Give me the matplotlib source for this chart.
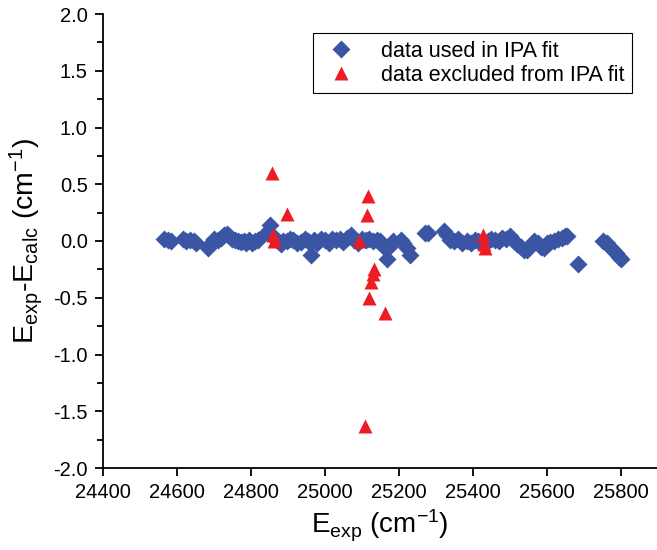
import numpy as np
import matplotlib.pyplot as plt

plt.rcParams['font.family'] = ['Liberation Sans', 'DejaVu Sans']
plt.rcParams['mathtext.default'] = 'regular'

# data used in the IPA fit (E_exp in cm^-1, residual in cm^-1)
used_x = [24565, 24575, 24585, 24615, 24625, 24635, 24645, 24652,
          24683, 24690, 24700,
          24712, 24720, 24728, 24735, 24742, 24750, 24758, 24765, 24772,
          24780, 24788, 24795, 24803, 24812, 24820,
          24843, 24851, 24858, 24865, 24872, 24880, 24888,
          24897, 24905, 24915, 24925, 24935, 24945, 24955, 24962, 24970,
          24980, 24990, 25000, 25010, 25020, 25030, 25040, 25050, 25060,
          25070, 25080, 25090, 25100, 25110, 25120, 25130, 25140, 25148,
          25160, 25168, 25176, 25185, 25205, 25212, 25222, 25230,
          25272, 25280, 25322, 25330, 25338, 25350, 25360, 25372, 25385,
          25395, 25405, 25415, 25425, 25440, 25450, 25460, 25470, 25480,
          25490, 25500, 25510, 25520, 25530, 25538, 25546, 25555, 25565,
          25575, 25585, 25592, 25600, 25610, 25620, 25630, 25640, 25648,
          25655,
          25684,
          25752, 25762, 25770, 25778, 25786, 25794, 25800]
used_y = [0.02, 0.01, 0.00, 0.02, 0.00, 0.01, 0.00, -0.02,
          -0.06, -0.03, 0.02,
          0.01, 0.03, 0.05, 0.06, 0.04, 0.02, 0.01, 0.00, -0.01,
          0.00, -0.02, 0.01, -0.02, 0.00, 0.01,
          0.08, 0.14, 0.05, 0.02, 0.00, -0.03, 0.00,
          0.00, 0.02, 0.01, -0.02, -0.01, 0.02, 0.00, -0.12, 0.01,
          -0.02, 0.02, 0.01, -0.02, 0.02, 0.01, 0.02, -0.01, 0.03,
          0.05, 0.01, -0.02, 0.02, 0.01, 0.02, 0.00, 0.01, 0.00,
          -0.05, -0.16, -0.04, 0.00, 0.01, -0.02, -0.06, -0.12,
          0.07, 0.07, 0.09, 0.05, 0.01, 0.00, 0.02, -0.02, 0.00,
          -0.02, 0.01, 0.00, -0.01, 0.00, 0.02, 0.01, 0.00, 0.03,
          0.02, 0.04, 0.00, -0.03, -0.05, -0.08, -0.08, -0.04, 0.00,
          -0.02, -0.05, -0.06, -0.02, -0.01, 0.00, 0.02, 0.03, 0.04,
          0.04,
          -0.20,
          0.00, -0.02, -0.05, -0.08, -0.11, -0.14, -0.16]

# data excluded from the IPA fit
excl_x = [24857, 24860, 24862, 24897, 25092, 25114, 25116, 25124, 25130,
          25132, 25119, 25162, 25108, 25427, 25430, 25432]
excl_y = [0.60, 0.05, 0.00, 0.24, 0.00, 0.23, 0.40, -0.36, -0.29,
          -0.25, -0.50, -0.63, -1.63, 0.05, -0.03, -0.06]

fig = plt.figure(figsize=(6.57, 5.5), dpi=100)
ax = fig.add_axes([103 / 657, 82 / 550, 554 / 657, 454 / 550])

ax.plot(used_x, used_y, 'D', color='#3A55A4', ms=9.5, mec='none',
        label='data used in IPA fit')
ax.plot(excl_x, excl_y, '^', color='#ED1C24', ms=10.5, mec='none',
        label='data excluded from IPA fit')

ax.set_xlim(24400, 25898)
ax.set_ylim(-2.0, 2.0)
ax.set_xticks(np.arange(24400, 25801, 200))
ax.set_yticks(np.arange(-2.0, 2.01, 0.5))
ax.set_yticks(np.arange(-1.75, 2.0, 0.5), minor=True)
ax.yaxis.set_major_formatter(plt.FormatStrFormatter('%.1f'))

for s in ['top', 'right']:
    ax.spines[s].set_visible(False)
ax.spines['left'].set_linewidth(1.3)
ax.spines['bottom'].set_linewidth(1.3)
ax.tick_params(which='major', direction='out', length=6, width=1.3,
               labelsize=14.5, pad=5)
ax.tick_params(which='minor', direction='out', length=4, width=1.3)

ax.set_xlabel(r'E$_{exp}$ (cm$^{-1}$)', fontsize=20, labelpad=4)
ax.set_ylabel(r'E$_{exp}$-E$_{calc}$ (cm$^{-1}$)', fontsize=20.5, labelpad=6)

leg = ax.legend(loc='upper right', bbox_to_anchor=(0.955, 0.958),
                borderaxespad=0, fontsize=15.5, fancybox=False,
                framealpha=1, edgecolor='black', handletextpad=0.9,
                borderpad=0.35, labelspacing=0.15, handlelength=1.9)
leg.get_frame().set_linewidth(0.8)

fig.savefig('out.png', dpi=100)
